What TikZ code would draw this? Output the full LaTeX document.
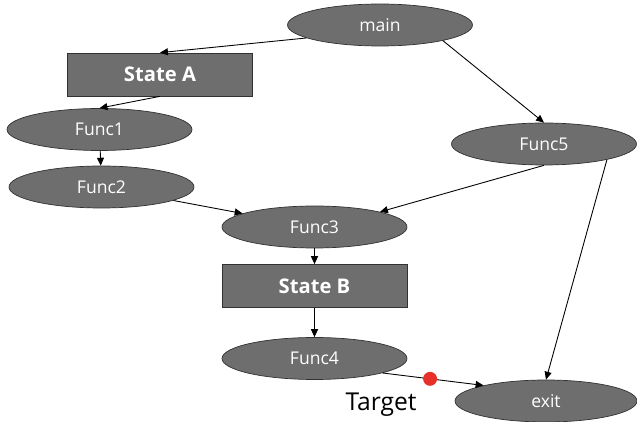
\documentclass[tikz,border=0pt]{standalone}
\usepackage{fontspec}
\setmainfont{Open Sans}
\usetikzlibrary{shapes.geometric,arrows.meta,positioning}
\definecolor{nodegray}{RGB}{110,110,110}
\definecolor{edgegray}{RGB}{50,50,50}
\definecolor{dotred}{RGB}{232,48,42}
\begin{document}
\begin{tikzpicture}[x=0.02cm,y=-0.02cm,
    func/.style={ellipse,draw=edgegray,fill=nodegray,text=white,inner sep=0pt,
      minimum width=3.7cm,minimum height=0.84cm,font=\fontsize{10}{12}\selectfont},
    state/.style={rectangle,draw=edgegray,fill=nodegray,text=white,inner sep=0pt,
      minimum width=3.7cm,minimum height=0.86cm,font=\fontsize{11.5}{13}\selectfont\bfseries},
    edge/.style={-{Triangle[length=4.5pt,width=4pt]},line width=0.5pt}]
    \useasboundingbox (0,0) rectangle (637,422);
    % nodes
    \node[func] (main) at (380,25) {main};
    \node[state] (sA) at (160,74.5) {State A};
    \node[func] (f1) at (99.5,129.5) {Func1};
    \node[func] (f2) at (101.5,187) {Func2};
    \node[func] (f5) at (544,144) {Func5};
    \node[func] (f3) at (314.5,227) {Func3};
    \node[state] (sB) at (314.5,286) {State B};
    \node[func] (f4) at (314.5,358.5) {Func4};
    \node[func,minimum width=3.64cm] (exit) at (546,401) {exit};
    % edges
    \draw[edge] (main.190) -- (sA.north);
    \draw[edge] (sA.south) -- (f1.north);
    \draw[edge] (f1) -- (f2);
    \draw[edge] (f2) -- (f3);
    \draw[edge] (main.-14) -- (f5.north);
    \draw[edge] (f5.south) -- (f3.13);
    \draw[edge] (f5.-14) -- (exit.north);
    \draw[edge] (f3) -- (sB);
    \draw[edge] (sB) -- (f4);
    \draw[edge] (f4.-12) -- node[pos=0.47,circle,fill=dotred,inner sep=0pt,minimum size=0.28cm] (dot) {} (exit.166);
    \node[below left=0.06cm and 0.04cm of dot,font=\fontsize{14}{16}\selectfont] (target) {Target};
\end{tikzpicture}
\end{document}
